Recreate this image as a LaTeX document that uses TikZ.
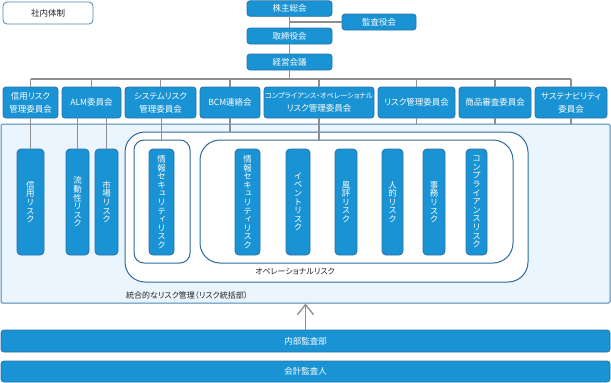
\documentclass[tikz,border=0pt]{standalone}
\usepackage{fontspec}
\setmainfont{Noto Sans CJK JP}[RawFeature=+palt]
\newfontfamily\vfont{Noto Sans CJK JP}[RawFeature=+vert]
\usetikzlibrary{arrows.meta}
\definecolor{bfill}{HTML}{1A93D4}
\definecolor{bedge}{HTML}{2A72A8}
\definecolor{lfill}{HTML}{EAF5FD}
\definecolor{ledge}{HTML}{4A86B8}
\definecolor{oedge}{HTML}{2F6A9A}
\definecolor{gline}{HTML}{8E8E8E}
\definecolor{dtext}{HTML}{222222}
\begin{document}
\begin{tikzpicture}[x=1pt,y=-1pt,
  bluebox/.style={draw=bedge, fill=bfill, line width=0.8pt, rounded corners=3pt, text=white,
    font=\fontsize{8.5}{13}\selectfont, inner sep=0pt, align=center},
  topbox/.style={bluebox, minimum width=85pt, minimum height=15.5pt},
  combox/.style={bluebox, minimum height=31pt},
  riskbox/.style={bluebox, rounded corners=4pt, font=\vfont\fontsize{8.5}{8.6}\selectfont, minimum height=106pt},
  bottombox/.style={bluebox, minimum width=609pt},
  regionbox/.style={draw=oedge, fill=white, line width=1pt, inner sep=0pt},
  conn/.style={draw=gline, line width=1.6pt},
  lbl/.style={text=dtext, font=\fontsize{8}{8}\selectfont, inner sep=0pt}
]
\useasboundingbox (0,0) rectangle (611,383);

% title box
\node[draw=ledge, fill=white, line width=0.8pt, rounded corners=4pt, text=dtext,
  font=\fontsize{8.5}{9}\selectfont, minimum width=90pt, minimum height=22pt] (title) at (48,13) {社内体制};

% top governance
\node[topbox] (kabu) at (289.5,8.5) {株主総会};
\node[topbox, minimum width=74pt, minimum height=16pt] (kansa) at (379,22) {監査役会};
\node[topbox, minimum height=16pt] (tori) at (289.5,36) {取締役会};
\node[topbox, minimum height=16pt] (keiei) at (289.5,62) {経営会議};

% big region boxes
\node[regionbox, draw=ledge, fill=lfill, rounded corners=1.5pt, minimum width=609pt, minimum height=179pt] (big) at (305.5,213.5) {};
\node[regionbox, rounded corners=20pt, minimum width=403pt, minimum height=150pt] (opout) at (326.5,207) {};
\node[regionbox, rounded corners=10pt, minimum width=56pt, minimum height=123pt] (sys) at (162,201.5) {};
\node[regionbox, rounded corners=20pt, minimum width=313pt, minimum height=123pt] (opin) at (356.5,201.5) {};

% committees
\node[combox, minimum width=55pt] (c1) at (30.5,102.5) {信用リスク\\管理委員会};
\node[combox, minimum width=59pt] (c2) at (91.5,102.5) {ALM委員会};
\node[combox, minimum width=71pt] (c3) at (160.5,102.5) {システムリスク\\管理委員会};
\node[combox, minimum width=60pt] (c4) at (230,102.5) {BCM連絡会};
\node[combox, minimum width=110pt, font=\fontsize{7.2}{13}\selectfont] (c5) at (319,102.5) {コンプライアンス・オペレーショナル\\{\fontsize{8.5}{13}\selectfont リスク管理委員会}};
\node[combox, minimum width=77pt] (c6) at (416.5,102.5) {リスク管理委員会};
\node[combox, minimum width=72pt] (c7) at (495,102.5) {商品審査委員会};
\node[combox, minimum width=72pt] (c8) at (571,102.5) {サステナビリティ\\委員会};

% risk boxes
\node[riskbox, minimum width=27pt] (r1) at (30.5,202) {信\\用\\リ\\ス\\ク};
\node[riskbox, minimum width=23pt] (r2) at (77.5,202) {流\\動\\性\\リ\\ス\\ク};
\node[riskbox, minimum width=23pt] (r3) at (106.5,202) {市\\場\\リ\\ス\\ク};
\node[riskbox, minimum width=25pt] (r4) at (161.5,202) {情\\報\\セ\\キ\\ュ\\リ\\テ\\ィ\\リ\\ス\\ク};
\node[riskbox, minimum width=25pt] (r5) at (247.5,202) {情\\報\\セ\\キ\\ュ\\リ\\テ\\ィ\\リ\\ス\\ク};
\node[riskbox, minimum width=24pt] (r6) at (298,202) {イ\\ベ\\ン\\ト\\リ\\ス\\ク};
\node[riskbox, minimum width=22pt] (r7) at (346,202) {風\\評\\リ\\ス\\ク};
\node[riskbox, minimum width=21pt] (r8) at (392.5,202) {人\\的\\リ\\ス\\ク};
\node[riskbox, minimum width=22pt] (r9) at (434,202) {事\\務\\リ\\ス\\ク};
\node[riskbox, minimum width=21pt] (r10) at (476.5,202) {コ\\ン\\プ\\ラ\\イ\\ア\\ン\\ス\\リ\\ス\\ク};

% labels
\node[lbl] (oplbl) at (295,271) {オペレーショナルリスク};
\node[lbl] (intlbl) at (187,295) {統合的なリスク管理（リスク統括部）};

% bottom boxes
\node[bottombox, minimum height=22pt] (naibu) at (305.5,341) {内部監査部};
\node[bottombox, minimum height=21pt] (kaikei) at (305.5,371.5) {会計監査人};

% connectors
\coordinate (bus) at (289.5,79);
\draw[conn] (kabu.south) -- (tori.north);
\draw[conn] (tori.south) -- (keiei.north);
\draw[conn] (kansa.west) -- (kabu.south |- kansa.west);
\draw[conn] (keiei.south) -- (bus);
\draw[conn] (c1.north |- bus) -- (c8.north |- bus);
\foreach \c in {c1,c2,c3,c4,c5,c6,c7,c8} {
  \draw[conn] (\c.north |- bus) -- (\c.north);
}
\draw[conn] (c1.south) -- (r1.north);
\draw[conn] (r2.north |- c2.south) -- (r2.north);
\draw[conn] (r3.north |- c2.south) -- (r3.north);
\draw[conn] (r4.north |- c3.south) -- (r4.north |- sys.north);
\draw[conn] (c4.south) -- (c4.south |- opout.north);
\draw[conn] (c5.south) -- (c5.south |- opin.north);
\foreach \c in {c6,c7,c8} {
  \draw[conn] (\c.south) -- (\c.south |- big.north);
}
\draw[conn, -{Straight Barb[length=10pt, width=16pt, line width=1.4pt]}] (naibu.north) -- (naibu.north |- big.south);
\end{tikzpicture}
\end{document}
